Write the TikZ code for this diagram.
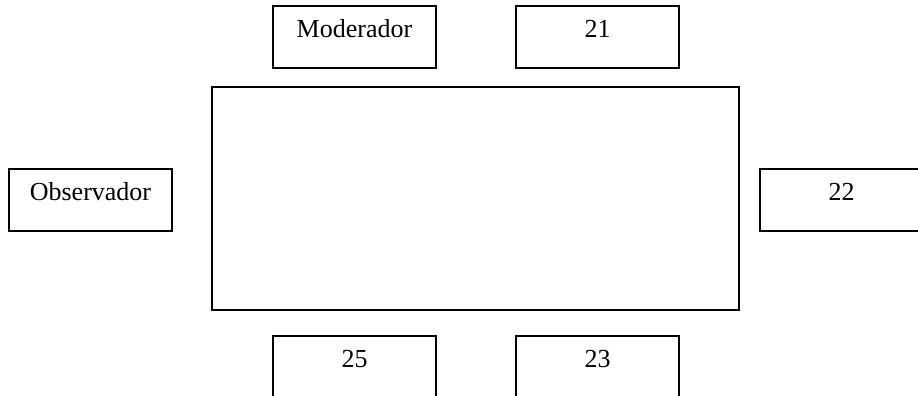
\documentclass[tikz,border=0pt]{standalone}
\usepackage{fontspec}
\setmainfont{Liberation Serif}
\begin{document}
\begin{tikzpicture}[x=1pt,y=-1pt,
  seat/.style={draw, line width=1.8pt, rectangle, minimum width=163pt, minimum height=62pt, inner sep=0pt},
  tag/.style={anchor=base, font=\fontsize{26}{26}\selectfont, inner sep=0pt, yshift=-32pt},
  tablebox/.style={draw, line width=1.8pt, rectangle, inner sep=0pt}]
  \useasboundingbox (0,0) rectangle (918,396);
  \clip (0,0) rectangle (918,396);
  % meeting table
  \node[tablebox, minimum width=527pt, minimum height=223pt] (mesa) at (475.5,198.5) {};
  % seats around the table
  \node[seat] (mod) at (354.5,37) {};
  \node[seat] (s21) at (597.5,37) {};
  \node[seat] (obs) at (90.5,200) {};
  \node[seat] (s22) at (841.5,200) {};
  \node[seat] (s25) at (354.5,367) {};
  \node[seat] (s23) at (597.5,367) {};
  % seat labels
  \node[tag] (tmod) at (mod.north) {Moderador};
  \node[tag] (t21) at (s21.north) {21};
  \node[tag] (tobs) at (obs.north) {Observador};
  \node[tag] (t22) at (s22.north) {22};
  \node[tag] (t25) at (s25.north) {25};
  \node[tag] (t23) at (s23.north) {23};
\end{tikzpicture}
\end{document}
